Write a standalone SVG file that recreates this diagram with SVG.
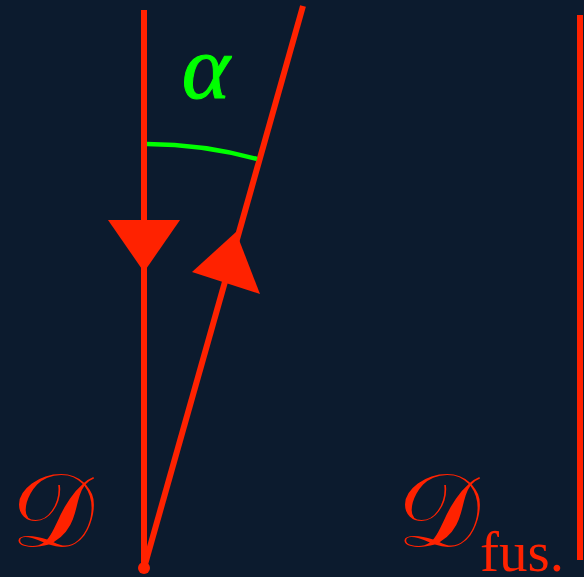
<svg xmlns="http://www.w3.org/2000/svg" width="584" height="577" viewBox="0 0 584 577">
<style>
.ln{stroke:#ff2200;stroke-width:6;fill:none}
.ah{fill:#ff2200}
.scr{font-family:"DejaVu Serif","Noto Sans",serif;fill:#ff2200;font-size:104px}
.sub{font-family:"Liberation Serif",serif;fill:#ff2200;font-size:57px}
</style>
<rect width="584" height="577" fill="#0c1b2e"/>
<g id="connectors">
<line class="ln" x1="144" y1="10" x2="144" y2="568"/>
<line class="ln" x1="144" y1="568" x2="303" y2="6"/>
<line class="ln" x1="580" y1="15" x2="580" y2="560"/>
<path class="ah" d="M108,220 L180,220 L144,272 Z"/>
<path class="ah" d="M236,232 L260,294 L192,272 Z"/>
<circle cx="144" cy="568" r="6" fill="#ff2200"/>
<path d="M147,144 A424,424 0 0 1 257,159" stroke="#00ff00" stroke-width="4.5" fill="none"/>
</g>
<g id="alpha"><text x="206" y="98" font-family="Liberation Serif,serif" font-style="italic" font-size="92" fill="#00ff00" stroke="#00ff00" stroke-width="1" text-anchor="middle">α</text></g>
<g id="D"><text class="scr" x="52" y="546" text-anchor="middle">𝒟</text></g>
<g id="Dfus"><text class="scr" x="438" y="546" text-anchor="middle">𝒟</text><text class="sub" x="480" y="571">fus.</text></g>
</svg>
